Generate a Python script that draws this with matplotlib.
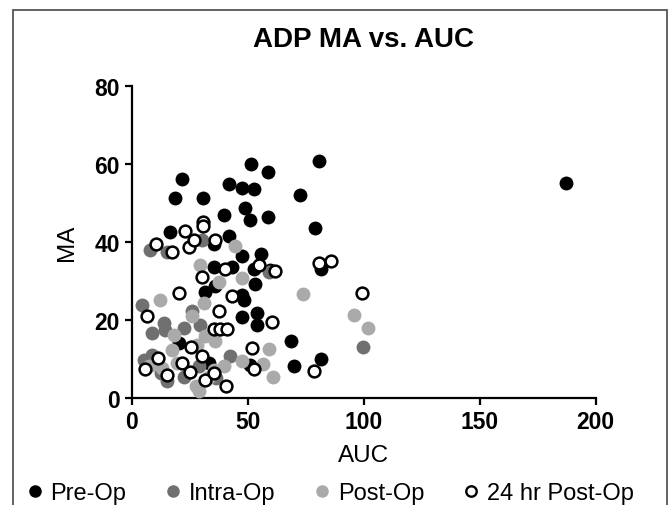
import matplotlib
matplotlib.use('Agg')
import matplotlib.pyplot as plt
from matplotlib.lines import Line2D
from matplotlib.patches import Rectangle

plt.rcParams['font.family'] = ['Liberation Sans', 'DejaVu Sans']

# data (AUC, MA)
pre_auc = [21.7, 18.8, 30.6, 41.8, 47.5, 52.6, 51.6, 58.8, 72.7, 80.9,
           48.7, 50.9, 58.8, 39.7, 78.9, 16.7, 41.9, 35.3, 187.0, 47.4,
           55.6, 35.6, 43.2, 52.6, 59.8, 81.5, 31.8, 36.0, 47.4, 48.6,
           53.3, 47.4, 54.0, 54.0, 68.8, 81.7, 69.8, 51.0, 20.3, 33.5]
pre_ma = [56.1, 51.3, 51.3, 54.8, 53.8, 53.5, 60.0, 57.9, 52.0, 60.8,
          48.8, 45.7, 46.4, 47.0, 43.7, 42.6, 41.5, 39.6, 55.0, 36.5,
          36.8, 33.5, 33.5, 33.2, 32.8, 33.2, 27.3, 28.6, 26.4, 25.1,
          29.1, 20.7, 21.7, 18.7, 14.5, 10.0, 8.3, 8.5, 14.1, 8.9]

intra_auc = [8.0, 15.2, 30.3, 59.0, 4.4, 13.8, 14.5, 8.8, 22.4, 29.3,
             26.0, 5.2, 8.8, 15.2, 22.4, 28.9, 42.5, 10.9, 99.7, 12.5, 36.5]
intra_ma = [37.9, 37.5, 40.5, 32.4, 23.8, 19.2, 17.5, 16.6, 17.9, 18.7,
            22.2, 9.8, 11.1, 4.3, 5.5, 8.1, 10.7, 9.4, 13.2, 6.5, 5.0]

post_auc = [44.7, 29.6, 37.5, 47.5, 12.4, 31.0, 26.0, 31.8, 18.1, 17.4,
            7.3, 13.1, 19.5, 27.5, 28.9, 35.3, 39.7, 47.5, 36.1, 28.1,
            73.8, 59.0, 56.5, 60.8, 95.7, 101.9, 33.2]
post_ma = [39.0, 34.1, 29.8, 30.7, 25.1, 24.3, 20.9, 15.8, 16.2, 12.3,
           8.1, 7.7, 8.9, 3.0, 1.7, 7.2, 8.1, 9.4, 14.5, 13.6,
           26.6, 12.6, 8.7, 5.4, 21.3, 17.9, 5.5]

post24_auc = [10.5, 17.5, 22.8, 24.6, 26.7, 30.6, 30.6, 35.8, 80.6, 85.9,
              40.4, 30.5, 55.0, 61.9, 20.5, 43.2, 37.5, 35.3, 38.2, 41.1,
              6.6, 60.6, 52.0, 25.5, 11.3, 5.7, 15.4, 21.6, 25.0, 30.3,
              31.4, 35.6, 40.6, 52.8, 78.6, 99.4]
post24_ma = [39.6, 37.5, 42.8, 38.6, 40.5, 45.2, 44.0, 40.5, 34.5, 35.1,
             33.2, 31.1, 34.1, 32.6, 26.9, 26.2, 22.4, 17.6, 17.7, 17.8,
             21.0, 19.5, 12.8, 13.0, 10.3, 7.5, 5.8, 8.9, 6.7, 10.7,
             4.7, 6.4, 3.0, 7.4, 7.0, 27.0]

x_ticks = [0, 50, 100, 150, 200]
y_ticks = [0, 20, 40, 60, 80]
labels = ['Pre-Op', 'Intra-Op', 'Post-Op', '24 hr Post-Op']

fig = plt.figure(figsize=(6.7, 5.06), dpi=100)
ax = fig.add_axes([0.1966, 0.2115, 0.6925, 0.6166])

# outer frame of the figure panel
fig.patches.append(Rectangle((0.019, -0.05), 0.977, 1.028, transform=fig.transFigure,
                             fill=False, edgecolor='#555555', linewidth=1.3))

ax.scatter(pre_auc, pre_ma, s=100, color='black', zorder=3, linewidths=0)
ax.scatter(intra_auc, intra_ma, s=100, color='#707070', zorder=3, linewidths=0)
ax.scatter(post_auc, post_ma, s=100, color='#aaaaaa', zorder=3, linewidths=0)
ax.scatter(post24_auc, post24_ma, s=72, facecolor='white', edgecolor='black',
           linewidths=1.8, zorder=4)

ax.set_xlim(0, 200)
ax.set_ylim(0, 80)
ax.set_xticks(x_ticks)
ax.set_yticks(y_ticks)
for s in ['top', 'right']:
    ax.spines[s].set_visible(False)
for s in ['left', 'bottom']:
    ax.spines[s].set_linewidth(1.6)
ax.tick_params(width=1.6, length=5, labelsize=16.5)
for lab in ax.get_xticklabels() + ax.get_yticklabels():
    lab.set_fontweight('bold')
ax.set_xlabel('AUC', fontsize=17.5, labelpad=8)
ax.set_ylabel('MA', fontsize=17.5, labelpad=12)

fig.text(0.5428, 0.921, 'ADP MA vs. AUC', ha='center', va='center',
         fontsize=20, fontweight='bold')

handles = [
    Line2D([], [], marker='o', ls='', color='black', markersize=8),
    Line2D([], [], marker='o', ls='', color='#707070', markersize=8),
    Line2D([], [], marker='o', ls='', color='#aaaaaa', markersize=8),
    Line2D([], [], marker='o', ls='', markerfacecolor='white',
           markeredgecolor='black', markeredgewidth=1.7, markersize=7.5),
]
fig.legend(handles, labels, loc='center', bbox_to_anchor=(0.49, 0.024), ncol=4,
           frameon=False, fontsize=17, handletextpad=0.15, columnspacing=1.5,
           handlelength=1.0)

plt.savefig('out.png', dpi=100, facecolor='white')
